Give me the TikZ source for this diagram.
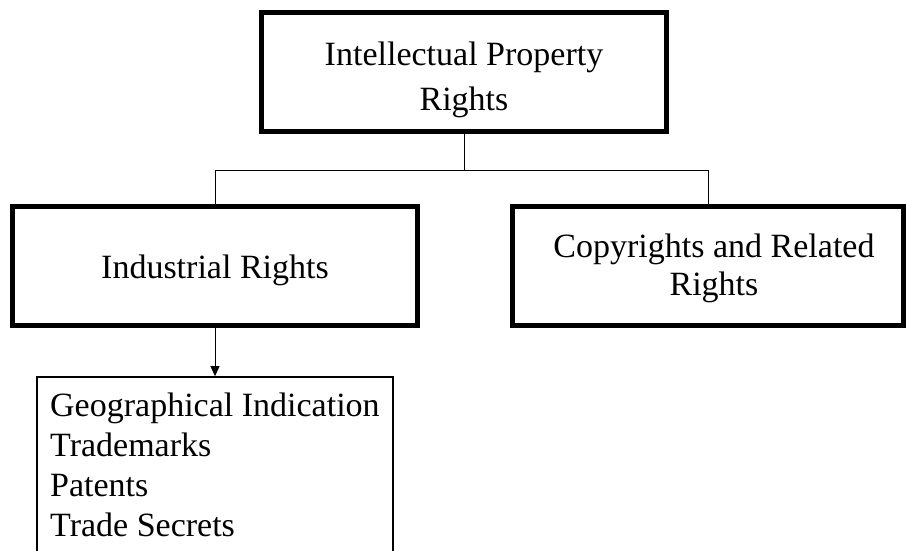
\documentclass[tikz,border=0pt]{standalone}
\usepackage{fontspec}
\setmainfont{Liberation Serif}
\usetikzlibrary{arrows.meta}
\begin{document}
\begin{tikzpicture}[x=1pt,y=-1pt,
  bigbox/.style={draw=black, line width=5pt, minimum width=405pt, minimum height=119pt,
    inner sep=0pt},
  boxtext/.style={inner sep=0pt, align=center, anchor=north},
  link/.style={draw=black, line width=1pt},
  listbox/.style={draw=black, line width=1.8pt, inner sep=0pt},
  listtext/.style={inner sep=0pt, align=left, anchor=north west,
    font=\fontsize{34}{40}\selectfont}]
  \useasboundingbox (0,0) rectangle (906,550);
  \clip (0,0) rectangle (906,550);

  % category boxes
  \node[bigbox] (ipr) at (464,72) {};
  \node[bigbox] (ind) at (215,266) {};
  \node[bigbox, minimum width=391pt] (copy) at (708,266) {};

  % their captions
  \node[boxtext, font=\fontsize{34}{45}\selectfont] (ipr-text) at (464,42)
    {Intellectual Property\\Rights};
  \node[boxtext, font=\fontsize{34}{40}\selectfont] (ind-text) at (215,255)
    {Industrial Rights};
  \node[boxtext, font=\fontsize{34}{38}\selectfont] (copy-text) at (714,234)
    {Copyrights and Related\\Rights};

  % list of industrial rights
  \node[listbox, minimum width=356pt, minimum height=223pt] (list) at (215,488.5) {};
  \node[listtext] (items) at (50,393)
    {Geographical Indication\\Trademarks\\Patents\\Trade Secrets};

  % tree connectors
  \coordinate (bus) at (0,170);
  \draw[link] (ipr.south) -- (ipr.south |- bus);
  \draw[link] (ind.north) -- (ind.north |- bus) -- (copy.north |- bus) -- (copy.north);
  \draw[link, -{Triangle[width=9pt,length=10pt]}] (ind.south) -- (list.north);
\end{tikzpicture}
\end{document}
